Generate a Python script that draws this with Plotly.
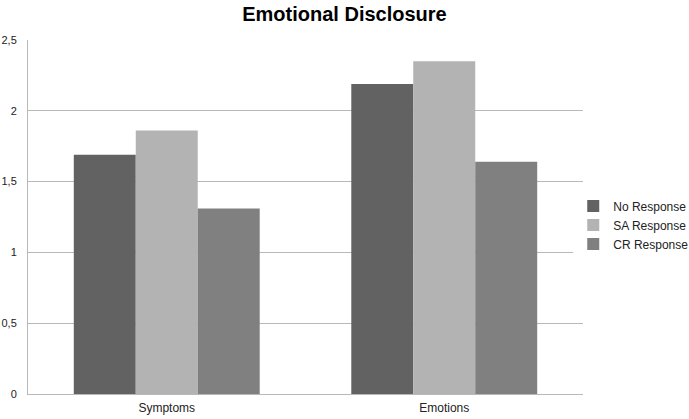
import plotly.graph_objects as go

categories = ["Symptoms", "Emotions"]
series_names = ["No Response", "SA Response", "CR Response"]
no_response = [1.69, 2.19]
sa_response = [1.86, 2.35]
cr_response = [1.31, 1.64]
tick_vals = [0, 0.5, 1, 1.5, 2, 2.5]
tick_text = ["0", "0,5", "1", "1,5", "2", "2,5"]

colors = ["#626262", "#b3b3b3", "#808080"]
fig = go.Figure()
for name, vals, c in zip(series_names, [no_response, sa_response, cr_response], colors):
    fig.add_trace(go.Bar(x=categories, y=vals, name=name, marker=dict(color=c, line=dict(width=0))))

fig.update_layout(
    width=689, height=419,
    margin=dict(l=28, r=106, t=40, b=25, autoexpand=False),
    paper_bgcolor="white", plot_bgcolor="white",
    barmode="group", bargap=0.33, bargroupgap=0,
    title=dict(text="<b>Emotional Disclosure</b>", x=0.5, xanchor="center", y=0.967, yanchor="middle",
               font=dict(family="Liberation Sans, Arial", size=20, color="#000")),
    font=dict(family="Liberation Sans, Arial", size=11, color="#222"),
    legend=dict(xref="container", yref="container", x=0.832, xanchor="left", y=0.463, yanchor="middle",
                font=dict(size=12, color="#222"), itemwidth=30),
    xaxis=dict(showline=True, linecolor="#b8b8b8", linewidth=1, ticks="", ticklabelstandoff=3,
               tickfont=dict(size=12)),
    yaxis=dict(range=[0, 2.5], tickvals=tick_vals, ticktext=tick_text, showgrid=True, gridcolor="#b8b8b8",
               showline=True, linecolor="#b8b8b8", zeroline=False, ticks="", ticklabelstandoff=8,
               tickfont=dict(size=11)),
)
fig.write_html("out.html", config={"displayModeBar": False},
               post_script="document.body.style.margin='0';")
